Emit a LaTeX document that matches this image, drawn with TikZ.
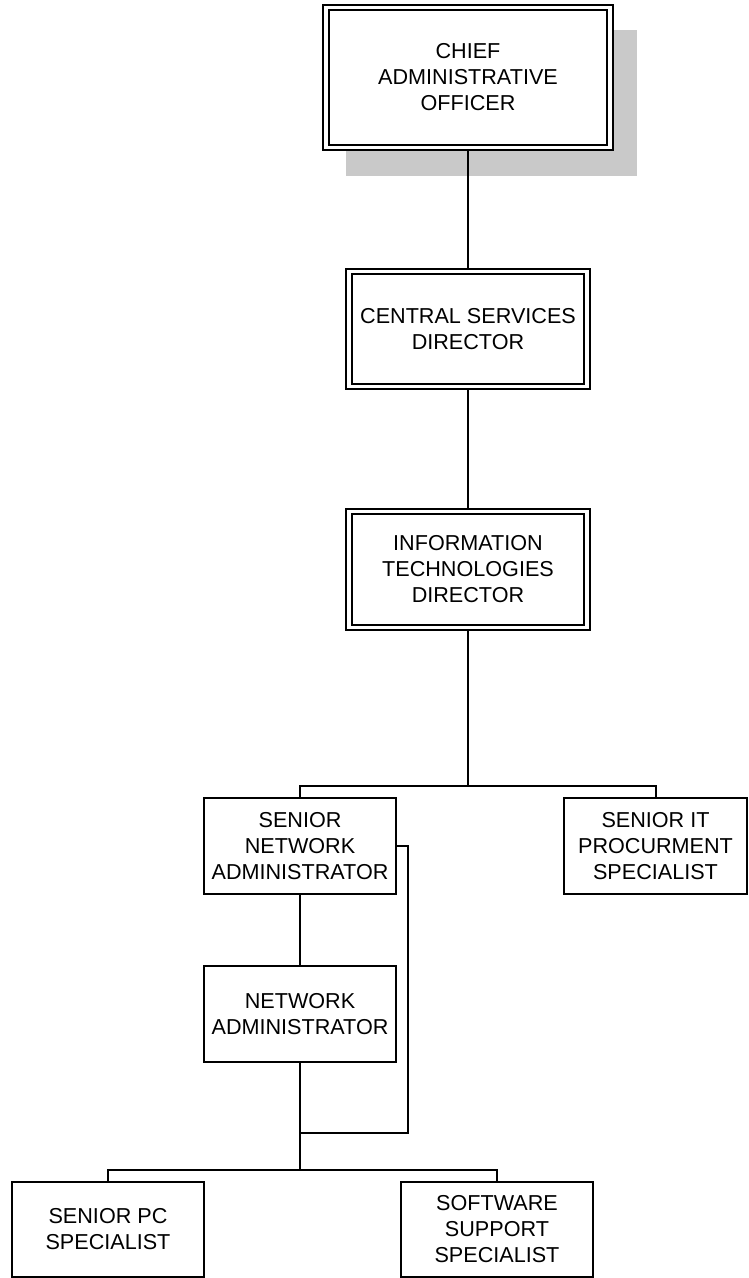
\documentclass[tikz,border=0pt]{standalone}
\usepackage{fontspec}
\setmainfont{Liberation Sans}
\usetikzlibrary{backgrounds}
\begin{document}
\begin{tikzpicture}[x=1pt,y=-1pt,line width=1.9pt,
  box/.style={draw=black, fill=white, inner sep=0pt, outer sep=0pt, align=center,
    font=\fontsize{21.6}{26}\selectfont},
  dbox/.style={box, double=white, double distance=3.3pt},
  link/.style={draw=black, line width=2pt},
  shadowfill/.style={fill=black!21}]
\useasboundingbox (0,0) rectangle (749,1278);
% nodes
\node[dbox, minimum width=284pt, minimum height=140pt] (cao) at (468,77.5) {CHIEF\\ADMINISTRATIVE\\OFFICER};
\node[dbox, minimum width=238pt, minimum height=115pt] (csd) at (468,329) {CENTRAL SERVICES\\DIRECTOR};
\node[dbox, minimum width=238pt, minimum height=116pt] (itd) at (468,569.5) {INFORMATION\\TECHNOLOGIES\\DIRECTOR};
\node[box, minimum width=192pt, minimum height=96pt] (sna) at (300,846) {SENIOR\\NETWORK\\ADMINISTRATOR};
\node[box, minimum width=183pt, minimum height=96pt] (sips) at (655.5,846) {SENIOR IT\\PROCURMENT\\SPECIALIST};
\node[box, minimum width=192pt, minimum height=96pt] (na) at (300,1014) {NETWORK\\ADMINISTRATOR};
\node[box, minimum width=192pt, minimum height=95pt] (spc) at (108,1229.5) {SENIOR PC\\SPECIALIST};
\node[box, minimum width=192pt, minimum height=95pt] (sss) at (497,1229.5) {SOFTWARE\\SUPPORT\\SPECIALIST};
\coordinate (b1) at (468,786);
\coordinate (j2) at (300,1133);
\coordinate (b2) at (300,1170);
\begin{scope}[on background layer]
  \fill[shadowfill] (346,30) rectangle (637,176);
  \path[link] (cao) -- (csd);
  \path[link] (csd) -- (itd);
  \path[link] (itd.south) -- (b1);
  \path[link] (sna.north) |- (b1) -| (sips.north);
  \path[link] (sna) -- (na);
  \path[link] (na.south) -- (b2);
  \path[link] (sna.east) -- ++(12,0) |- (j2);
  \path[link] (spc.north) |- (b2) -| (sss.north);
\end{scope}
\end{tikzpicture}
\end{document}
